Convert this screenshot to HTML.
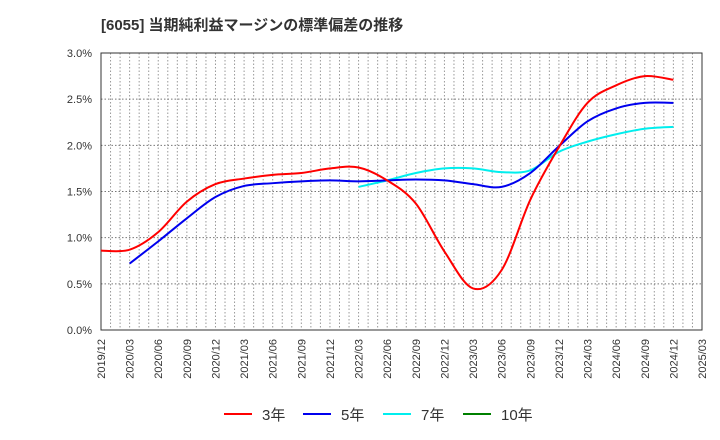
<!DOCTYPE html>
<html><head><meta charset="utf-8"><style>
body{margin:0;background:#fff;}
svg{display:block;font-family:"Liberation Sans","Noto Sans CJK JP",sans-serif;}
</style></head><body>
<svg id="c" width="720" height="440" viewBox="0 0 720 440">
<text x="101" y="30" font-size="15" font-weight="bold" fill="#333">[6055]  当期純利益マージンの標準偏差の推移</text>
<g id="grid"></g><g id="axes"></g><g id="series"></g><g id="legend"></g>
</svg>
<script>
const xLabels=["2019/12","2020/03","2020/06","2020/09","2020/12","2021/03","2021/06","2021/09","2021/12","2022/03","2022/06","2022/09","2022/12","2023/03","2023/06","2023/09","2023/12","2024/03","2024/06","2024/09","2024/12","2025/03"];
const yTicks=[0,0.5,1.0,1.5,2.0,2.5,3.0];
const months3=[0,3,6,9,12,15,18,21,24,27,30,33,36,39,42,45,48,51,54,57,60];
const s3=[0.86,0.87,1.06,1.39,1.58,1.64,1.68,1.70,1.75,1.76,1.62,1.37,0.85,0.45,0.65,1.41,1.98,2.46,2.65,2.75,2.71];
const months5=[3,6,9,12,15,18,21,24,27,30,33,36,39,42,45,48,51,54,57,60];
const s5=[0.72,0.96,1.21,1.44,1.56,1.59,1.61,1.62,1.61,1.62,1.63,1.62,1.58,1.55,1.70,1.99,2.26,2.40,2.46,2.46];
const months7=[27,30,33,36,39,42,45,48,51,54,57,60];
const s7=[1.55,1.62,1.70,1.75,1.75,1.71,1.73,1.93,2.04,2.12,2.18,2.20];
const seriesNames=["3年","5年","7年","10年"];
const colors=["#ff0000","#0000ee","#00eeee","#008000"];
const L=101,R=702,T=53,B=330,NM=63;
const xs=m=>L+(R-L)*m/NM, ys=v=>B-(B-T)*v/3;
const NS="http://www.w3.org/2000/svg";
function mk(p,tag,a){const e=document.createElementNS(NS,tag);for(const k in a)e.setAttribute(k,a[k]);p.appendChild(e);return e;}
const g=document.getElementById('grid'),ax=document.getElementById('axes'),se=document.getElementById('series'),lg=document.getElementById('legend');
for(let m=1;m<NM;m++){const l=mk(g,'line',{x1:xs(m),x2:xs(m),y1:T,y2:B,stroke:'#999','stroke-dasharray':'1.5,2','stroke-width':1});

}
yTicks.forEach(v=>{if(v>0&&v<3){const l=mk(g,'line',{x1:L,x2:R,y1:ys(v),y2:ys(v),stroke:'#777','stroke-dasharray':'1.5,2','stroke-width':1});

}
const t=mk(ax,'text',{x:92,y:ys(v)+4,'text-anchor':'end','font-size':11,fill:'#333'});t.textContent=v.toFixed(1)+'%';

});
const fr=mk(ax,'rect',{x:L,y:T,width:R-L,height:B-T,fill:'none',stroke:'#333','stroke-width':1});


xLabels.forEach((s,i)=>{const x=xs(i*3)+4;const t=mk(ax,'text',{x:0,y:0,'font-size':11,fill:'#333','text-anchor':'end',transform:`translate(${x},339) rotate(-90)`});t.textContent=s;

});
function path(ms,vs){const p=ms.map((m,i)=>[xs(m),ys(vs[i])]);let d=`M${p[0][0]},${p[0][1]}`;
for(let i=0;i<p.length-1;i++){const p0=p[i-1]||p[i],p1=p[i],p2=p[i+1],p3=p[i+2]||p2;
d+=` C${p1[0]+(p2[0]-p0[0])/6},${p1[1]+(p2[1]-p0[1])/6} ${p2[0]-(p3[0]-p1[0])/6},${p2[1]-(p3[1]-p1[1])/6} ${p2[0]},${p2[1]}`;}return d;}
[[months7,s7,2],[months5,s5,1],[months3,s3,0]].forEach(([m,v,c])=>{const p=mk(se,'path',{d:path(m,v),fill:'none',stroke:colors[c],'stroke-width':2});

});
const lx=[224,303,383,463];
seriesNames.forEach((n,i)=>{const l=mk(lg,'line',{x1:lx[i],x2:lx[i]+28,y1:414,y2:414,stroke:colors[i],'stroke-width':2});


const t=mk(lg,'text',{x:lx[i]+38,y:420,'font-size':15,fill:'#333'});t.textContent=n;

});
</script>
</body></html>
